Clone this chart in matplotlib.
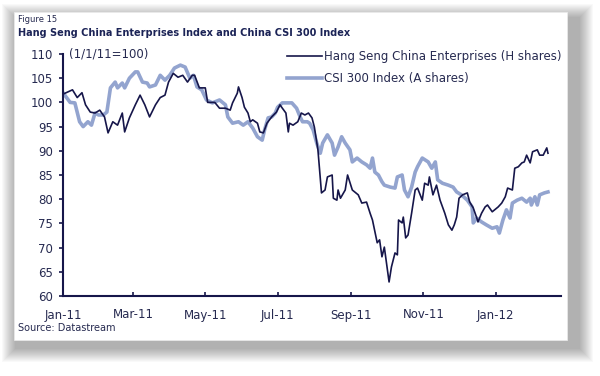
import numpy as np
import pandas as pd
import matplotlib
matplotlib.use("Agg")
import matplotlib.pyplot as plt
import matplotlib.dates as mdates
from matplotlib.patches import Rectangle

# days since 1 Jan 2011 (1/1/11 = 100)
h_days = [0, 8, 12, 16, 19, 23, 27, 31, 35, 38, 42, 46, 50, 52, 56, 61, 65, 69, 73, 78,
          82, 86, 89, 93, 97, 101, 105, 109, 111, 115, 120, 122, 128, 132, 137, 141, 143,
          147, 148, 151, 153, 156, 158, 160, 164, 166, 169, 172, 176, 180, 183, 185, 188,
          190, 191, 194, 198, 201, 204, 207, 210, 212, 215, 218, 221, 223, 227, 228, 231,
          232, 234, 238, 240, 244, 246, 249, 252, 256, 259, 261, 265, 267, 269, 271, 274,
          275, 277, 280, 282, 283, 286, 287, 289, 291, 294, 297, 299, 303, 305, 308, 309,
          312, 315, 318, 322, 325, 328, 330, 332, 334, 337, 341, 343, 346, 349, 350, 353,
          356, 358, 362, 364, 367, 370, 373, 375, 379, 381, 384, 387, 389, 391, 394, 396,
          400, 402, 405, 408, 409]
h_shares = [101.7, 102.6, 101.0, 102.0, 99.5, 98.0, 97.8, 98.4, 97.0, 93.7, 96.0, 95.3,
            97.8, 93.9, 96.8, 99.5, 101.5, 99.5, 97.0, 99.5, 101.0, 101.5, 104.2, 106.0,
            105.2, 105.6, 104.2, 105.6, 105.6, 103.0, 103.0, 100.0, 100.0, 98.8, 98.8,
            98.4, 99.9, 101.9, 103.2, 101.0, 99.0, 97.8, 96.0, 96.4, 95.7, 93.9, 93.7,
            95.7, 97.0, 98.0, 99.5, 98.8, 97.8, 93.9, 95.7, 95.3, 96.0, 97.8, 97.4, 97.8,
            96.8, 94.9, 90.2, 81.3, 81.9, 84.6, 85.0, 80.2, 79.8, 81.9, 80.2, 81.9, 85.0,
            81.9, 81.5, 80.9, 79.2, 79.4, 77.1, 75.7, 71.0, 71.6, 68.1, 70.1, 64.8, 62.9,
            66.0, 68.9, 68.5, 75.7, 75.1, 76.3, 72.0, 72.6, 77.1, 81.9, 82.3, 79.8, 83.3,
            82.9, 84.6, 80.9, 82.9, 79.8, 77.1, 74.7, 73.6, 74.7, 76.3, 80.2, 80.9, 81.3,
            79.4, 78.2, 76.1, 75.3, 77.1, 78.4, 78.8, 77.4, 77.8, 78.4, 79.2, 80.5, 82.3,
            81.9, 86.4, 86.7, 87.5, 87.7, 89.1, 87.5, 89.8, 90.2, 89.1, 89.1, 90.6, 89.5]

a_days = [0, 6, 10, 14, 17, 21, 24, 27, 30, 34, 37, 40, 44, 46, 50, 52, 56, 61, 63, 67,
          71, 73, 78, 82, 86, 90, 94, 99, 103, 107, 110, 113, 117, 121, 126, 132, 137, 139,
          143, 148, 152, 156, 160, 164, 168, 170, 173, 176, 179, 181, 185, 189, 193, 197,
          200, 202, 206, 208, 211, 214, 217, 219, 223, 227, 229, 232, 235, 238, 242, 244,
          248, 252, 256, 259, 261, 263, 266, 269, 271, 276, 280, 282, 286, 288, 291, 294,
          297, 299, 303, 308, 311, 314, 316, 320, 325, 329, 332, 336, 341, 345, 346, 349,
          353, 357, 362, 366, 368, 371, 374, 377, 379, 383, 387, 391, 394, 395, 398, 400,
          402, 406, 409]
a_shares = [102.0, 100.0, 99.9, 96.0, 95.0, 96.0, 95.3, 97.8, 97.4, 97.4, 98.0, 103.0,
            104.2, 103.0, 104.0, 103.0, 105.0, 106.3, 106.3, 104.2, 104.0, 103.2, 103.6,
            105.6, 104.6, 105.6, 107.1, 107.7, 107.3, 105.0, 105.6, 103.2, 102.6, 100.5,
            99.9, 100.5, 99.5, 97.0, 95.7, 96.0, 95.3, 96.0, 94.7, 92.9, 92.2, 94.3, 96.8,
            97.0, 97.8, 99.0, 99.9, 99.9, 99.9, 98.8, 97.0, 96.0, 96.0, 95.7, 94.3, 91.6,
            89.5, 91.6, 93.3, 91.6, 89.1, 90.8, 92.9, 91.6, 90.2, 87.7, 88.5, 87.7, 87.1,
            86.4, 88.5, 85.6, 85.0, 83.6, 82.9, 82.5, 82.3, 84.6, 85.0, 81.9, 80.5, 82.5,
            85.6, 86.7, 88.5, 87.7, 86.4, 87.7, 84.0, 83.3, 82.9, 82.5, 81.5, 80.9, 79.8,
            78.4, 75.1, 76.1, 75.3, 74.7, 74.0, 74.3, 73.0, 75.7, 77.8, 76.1, 79.2, 79.8,
            80.2, 79.4, 80.2, 78.8, 80.5, 78.8, 80.9, 81.3, 81.5]

tick_dates = ["2011-01-01", "2011-03-01", "2011-05-01", "2011-07-01",
              "2011-09-01", "2011-11-01", "2012-01-01"]
y_ticks = list(range(60, 111, 5))

base = pd.Timestamp("2011-01-01")
h_dates = base + pd.to_timedelta(h_days, unit="D")
a_dates = base + pd.to_timedelta(a_days, unit="D")

navy = "#16164a"
light = "#93a4cf"
txt = "#262a50"

W, H = 600, 376
fig = plt.figure(figsize=(6.0, 3.76), dpi=100)
fig.patch.set_facecolor("white")

# card with soft drop shadow (heavier to the right and below)
cx0, cy0, cx1, cy1 = 14, 12, 567, 340
for i in range(14, 0, -1):
    fig.patches.append(Rectangle(((cx0 + 2 - i) / W, 1 - (cy1 + 8 + i) / H),
                                 (cx1 - cx0 + 10 + 2 * i) / W, (cy1 - cy0 + 2 + 2 * i) / H,
                                 transform=fig.transFigure, facecolor="black",
                                 alpha=0.022, edgecolor="none", zorder=-3))
fig.patches.append(Rectangle((cx0 / W, 1 - cy1 / H), (cx1 - cx0) / W, (cy1 - cy0) / H,
                             transform=fig.transFigure, facecolor="white",
                             edgecolor="#ececec", lw=0.5, zorder=-2))

ax = fig.add_axes([63 / W, 1 - 296 / H, (561 - 63) / W, (296 - 54) / H])
ax.patch.set_alpha(0)

l1, = ax.plot(h_dates, h_shares, color=navy, lw=1.2,
              label="Hang Seng China Enterprises (H shares)", zorder=3)
l2, = ax.plot(a_dates, a_shares, color=light, lw=2.6,
              label="CSI 300 Index (A shares)", zorder=2)

ax.set_ylim(60, 110)
ax.set_xlim(base, base + pd.Timedelta(days=420))
ax.set_yticks(y_ticks)
ax.set_xticks(pd.to_datetime(tick_dates))
ax.xaxis.set_major_formatter(mdates.DateFormatter("%b-%y"))

for s in ["top", "right"]:
    ax.spines[s].set_visible(False)
for s in ["left", "bottom"]:
    ax.spines[s].set_color(navy)
    ax.spines[s].set_linewidth(1.5)
ax.tick_params(axis="y", direction="out", length=3, width=1.2, color=navy,
               labelsize=8.5, labelcolor=txt, pad=4)
ax.tick_params(axis="x", direction="in", length=3, width=1.2, color=navy,
               labelsize=8.5, labelcolor=txt, pad=9)

ax.text(0.012, 1.0, "(1/1/11=100)", transform=ax.transAxes, fontsize=8.5,
        color=txt, va="center", ha="left")

fig.legend(handles=[l1, l2], loc="upper right", bbox_to_anchor=(567 / W, 1 - 44 / H),
           frameon=False, fontsize=8.5, handlelength=3.0, handletextpad=0.1,
           labelspacing=0.75, labelcolor=txt, borderpad=0)

fig.text(18 / W, 1 - 20 / H, "Figure 15", fontsize=6, color=txt, va="center")
fig.text(18 / W, 1 - 33 / H, "Hang Seng China Enterprises Index and China CSI 300 Index",
         fontsize=7, fontweight="bold", color="#1b2356", va="center")
fig.text(18 / W, 1 - 328 / H, "Source: Datastream", fontsize=7, color=txt, va="center")

fig.savefig("out.png", dpi=100)
